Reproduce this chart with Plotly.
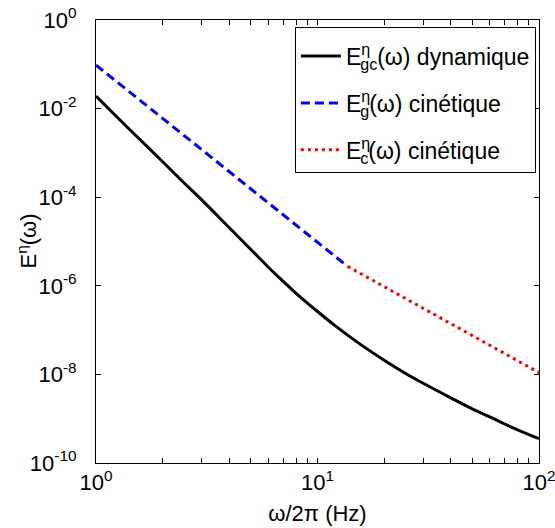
import plotly.graph_objects as go

# ---- data ----
freq_gc = [1, 1.25, 1.5, 2, 2.5, 3, 4, 5, 6, 7, 8, 10, 12, 15, 20, 25, 30, 40, 50, 60, 70, 80, 100]
E_gc = [1.91e-2, 6.31e-3, 2.57e-3, 6.31e-4, 2.09e-4, 8.71e-5, 2.04e-5, 6.61e-6, 2.63e-6,
        1.26e-6, 6.76e-7, 2.63e-7, 1.26e-7, 5.50e-8, 2.09e-8, 1.05e-8, 6.31e-9, 2.95e-9,
        1.66e-9, 1.10e-9, 7.59e-10, 5.62e-10, 3.55e-10]

freq_g = [1, 2, 5, 10, 13.7]
E_g = [9.6e-2, 6.0e-3, 1.54e-4, 9.6e-6, 2.73e-6]

freq_c = [13.7, 20, 30, 50, 70, 100]
E_c = [2.73e-6, 9.5e-7, 3.08e-7, 7.5e-8, 2.95e-8, 1.1e-8]

x_tickvals = [1, 2, 3, 4, 5, 6, 7, 8, 9, 10, 20, 30, 40, 50, 60, 70, 80, 90, 100]
x_ticktext = ["10<sup>0</sup>"] + [""] * 8 + ["10<sup>1</sup>"] + [""] * 8 + ["10<sup>2</sup>"]
y_tickvals = [1, 1e-2, 1e-4, 1e-6, 1e-8, 1e-10]
y_ticktext = ["10<sup>0</sup>", "10<sup>-2</sup>", "10<sup>-4</sup>", "10<sup>-6</sup>",
              "10<sup>-8</sup>", "10<sup>-10</sup>"]

names = [
    "E<sup><span style='letter-spacing:-10px'>η</span></sup><sub>gc</sub>(ω) dynamique",
    "E<sup><span style='letter-spacing:-10px'>η</span></sup><sub>g</sub>(ω) cinétique",
    "E<sup><span style='letter-spacing:-10px'>η</span></sup><sub>c</sub>(ω) cinétique",
]

FONT = "Liberation Sans, Arial, sans-serif"

fig = go.Figure()
fig.add_trace(go.Scatter(x=freq_gc, y=E_gc, mode="lines", name=names[0], legendgroup="a",
                         line=dict(color="black", width=3), line_shape="spline"))
fig.add_trace(go.Scatter(x=freq_g, y=E_g, mode="lines", name=names[1], legendgroup="b",
                         line=dict(color="#0000ff", width=3, dash="9px,5px")))
fig.add_trace(go.Scatter(x=freq_c, y=E_c, mode="lines", name=names[2], legendgroup="c",
                         line=dict(color="#ff0000", width=3, dash="3px,4px")))

axis_common = dict(type="log", showline=True, linecolor="black", linewidth=1,
                   mirror="allticks", ticks="inside", ticklen=5, tickcolor="black",
                   showgrid=False, zeroline=False, tickmode="array",
                   ticklabeloverflow="allow",
                   tickfont=dict(family=FONT, size=22, color="black"))

fig.update_xaxes(**axis_common, range=[0, 2], tickvals=x_tickvals, ticktext=x_ticktext,
                 title=dict(text="ω/2π (Hz)", font=dict(family=FONT, size=22, color="black"),
                            standoff=11))
fig.update_yaxes(**axis_common, range=[-10, 0], tickvals=y_tickvals, ticktext=y_ticktext,
                 ticklabelstandoff=14)

fig.add_annotation(text="E<sup>η</sup>(ω)", xref="paper", yref="paper",
                   x=-0.158, y=0.5, xanchor="center", yanchor="middle",
                   textangle=-90, showarrow=False,
                   font=dict(family=FONT, size=22, color="black"))

fig.update_layout(
    width=555, height=528,
    margin=dict(l=96, r=16, t=20, b=65, autoexpand=False),
    plot_bgcolor="white", paper_bgcolor="white",
    font=dict(family=FONT, size=22, color="black"),
    legend=dict(x=0.993, y=0.984, xanchor="right", yanchor="top",
                bgcolor="white", bordercolor="black", borderwidth=1,
                tracegroupgap=14, itemwidth=40,
                title=dict(text=" ", font=dict(family=FONT, size=5)),
                font=dict(family=FONT, size=23, color="black")),
)

fig.write_html("out.html")
